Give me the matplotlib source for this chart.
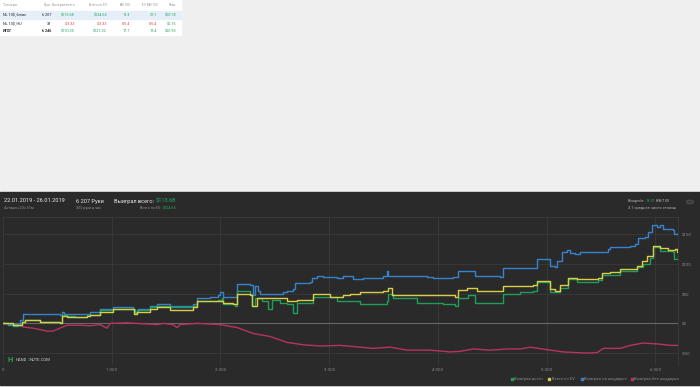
import matplotlib.pyplot as plt
from matplotlib.patches import Rectangle, Circle
from matplotlib.ticker import FuncFormatter

# -----------------------------
# Data (hands played -> dollars)
# -----------------------------
sd_hands = [0, 46, 92, 156, 184, 340, 524, 543, 561, 681, 782, 800, 892, 1012,
            1141, 1196, 1214, 1242, 1352, 1417, 1536, 1748, 1785, 1904, 1978,
            1996, 2024, 2116, 2153, 2272, 2300, 2318, 2346, 2364, 2429, 2576,
            2613, 2668, 2686, 2824, 2843, 2889, 2944, 3073, 3128, 3192, 3220,
            3312, 3468, 3496, 3524, 3533, 3542, 3717, 3901, 3956, 4140, 4186,
            4324, 4342, 4572, 4600, 4894, 4913, 5005, 5032, 5078, 5097, 5143,
            5189, 5216, 5262, 5308, 5566, 5584, 5704, 5768, 5814, 5842, 5906,
            5934, 5971, 6017, 6044, 6072, 6164, 6173, 6201, 6207]
sd_won = [0, -2, -1, 5, 15, 15, 14, 20, 16, 15, 16, 20, 25, 27,
          27, 25, 20, 25, 30, 33, 30, 33, 43, 45, 47,
          52, 45, 45, 67, 65, 48, 63, 55, 50, 50, 52,
          55, 58, 68, 70, 77, 80, 78, 77, 80, 80, 75,
          77, 77, 80, 80, 88, 80, 80, 78, 76, 78, 88,
          88, 80, 78, 93, 93, 108, 108, 96, 95, 105, 120,
          123, 118, 116, 120, 126, 128, 128, 131, 133, 143, 145,
          153, 165, 163, 166, 158, 157, 150, 150, 152]

total_hands = [0, 46, 92, 138, 175, 202, 340, 524, 543, 589, 662, 773, 800,
               892, 1012, 1141, 1205, 1233, 1352, 1417, 1536, 1748, 1785,
               1978, 2015, 2024, 2134, 2153, 2272, 2291, 2318, 2383, 2438,
               2475, 2548, 2613, 2668, 2705, 2852, 3008, 3073, 3128, 3192,
               3284, 3441, 3533, 3542, 3588, 3809, 4048, 4158, 4186, 4278,
               4342, 4572, 4600, 4756, 4876, 4913, 5014, 5032, 5097, 5124,
               5198, 5281, 5474, 5511, 5676, 5833, 5888, 5952, 5980, 6044,
               6164, 6173, 6207]
total_won = [0, -1, -4, -3, 2, 5, 3, 0, 14, 12, 11, 14, 14,
             22, 25, 25, 17, 22, 28, 30, 27, 30, 38,
             40, 43, 33, 30, 55, 50, 30, 43, 38, 25,
             40, 35, 33, 18, 35, 45, 45, 37, 38, 38,
             33, 32, 37, 50, 42, 35, 32, 30, 42, 47,
             35, 35, 50, 52, 55, 70, 70, 53, 52, 60,
             75, 70, 73, 82, 88, 95, 100, 110, 128, 122,
             120, 108, 113.68]

ev_hands = [0, 92, 175, 202, 340, 524, 543, 589, 662, 773, 800, 892, 1012,
            1141, 1205, 1233, 1352, 1417, 1536, 1748, 1785, 1978, 2024, 2116,
            2153, 2272, 2291, 2337, 2456, 2613, 2705, 2852, 3008, 3128, 3192,
            3284, 3441, 3496, 3542, 3579, 3717, 4020, 4158, 4186, 4269, 4361,
            4545, 4600, 4876, 4913, 5014, 5032, 5078, 5124, 5198, 5281, 5474,
            5511, 5584, 5676, 5833, 5879, 5925, 5980, 6044, 6118, 6182, 6201,
            6207]
ev_won = [0, -3, 2, 5, 3, 0, 13, 11, 10, 12, 14, 20, 24,
          24, 15, 20, 25, 28, 22, 27, 38, 37, 35, 32,
          50, 47, 30, 43, 42, 37, 40, 50, 45, 47, 50,
          52, 53, 55, 60, 48, 48, 47, 45, 57, 60, 55,
          55, 63, 64, 72, 72, 58, 55, 65, 77, 75, 77,
          85, 87, 92, 97, 105, 113, 131, 127, 123, 125, 120,
          124.65]

nsd_hands = [0, 156, 184, 276, 405, 460, 524, 589, 708, 800, 892, 957, 984,
             1141, 1417, 1472, 1564, 1601, 1628, 1785, 1996, 2153, 2300, 2456,
             2613, 2760, 2916, 3100, 3284, 3404, 3560, 3717, 3928, 4112, 4204,
             4324, 4480, 4637, 4756, 4848, 5032, 5152, 5373, 5465, 5520, 5676,
             5768, 5888, 6044, 6136, 6207]
nsd_won = [0, -3, -6, -8, -13, -13, -8, -3, -3, -4, -2, -8, 0,
           1, -2, 0, -2, -7, -2, 0, -2, -7, -17, -22,
           -32, -36, -38, -37, -40, -42, -40, -45, -45, -48, -47,
           -43, -45, -43, -43, -40, -45, -48, -50, -49, -42, -42,
           -37, -33, -35, -37, -37]

x_ticks = [0, 1000, 2000, 3000, 4000, 5000, 6000]
y_ticks = [-50, 0, 50, 100, 150]

table_header = ["Тип игры", "Руки", "Выиграл всего", "Всего по EV",
                "BB/100", "EV BB/100", "Рейк"]
table_rows = [
    ["NL 10$, 6max", "6 207", "$113.68", "$124.65", "18.3", "20.1", "$50.78"],
    ["NL 10$, HU", "39", "-$3.33", "-$3.33", "-85.4", "-85.4", "$0.15"],
    ["ИТОГ", "6 246", "$110.35", "$121.32", "17.7", "19.4", "$50.93"],
]

legend_labels = ["Выиграл всего", "Всего по EV", "Выиграл на шоудауне",
                 "Выиграл без шоудауна"]

GREEN = "#1e9e5a"
YELLOW = "#d8cf45"
BLUE = "#3683cc"
RED = "#b83263"
TXT_GREEN = "#22b060"

W, H = 700, 387


def fx(x):
    return x / W


def fy(y):
    return 1 - y / H


def text_run(fig, x, y, parts, size, ha="left"):
    """Write several coloured pieces one after another on one line."""
    renderer = fig.canvas.get_renderer()
    widths = []
    for txt, col in parts:
        t = fig.text(0, 0, txt, fontsize=size)
        widths.append(t.get_window_extent(renderer).width)
        t.remove()
    total = sum(widths)
    cur = x if ha == "left" else x - total
    for (txt, col), w in zip(parts, widths):
        fig.text(fx(cur), fy(y), txt, fontsize=size, color=col,
                 va="center", ha="left")
        cur += w


plt.rcParams["font.family"] = ["Roboto", "DejaVu Sans"]

fig = plt.figure(figsize=(7, 3.87), dpi=100, facecolor="#efefef")

# -----------------------------
# Summary table (top-left)
# -----------------------------
fig.patches.append(Rectangle((0, fy(35)), fx(181), 35 / H,
                             transform=fig.transFigure, color="white", zorder=-10))
fig.patches.append(Rectangle((0, fy(19)), fx(181), 8 / H,
                             transform=fig.transFigure, color="#e6eef8", zorder=-9))

col_right = [None, 51, 75, 107, 130, 157, 176]
row_y = [5, 15, 24, 31]

for j, txt in enumerate(table_header):
    if j == 0:
        fig.text(fx(3), fy(row_y[0]), txt, fontsize=2.3, color="#9a9a9a",
                 va="center", ha="left")
    else:
        fig.text(fx(col_right[j]), fy(row_y[0]), txt, fontsize=2.3,
                 color="#9a9a9a", va="center", ha="right")

for i, row in enumerate(table_rows):
    bold = i == 2
    for j, txt in enumerate(row):
        if j < 2:
            color = "#222222"
        elif txt.startswith("-"):
            color = "#e0453f"
        else:
            color = "#24a35a"
        if j == 0:
            fig.text(fx(3), fy(row_y[i + 1]), txt, fontsize=2.7, color=color,
                     va="center", ha="left",
                     fontweight="bold" if bold else "normal")
        else:
            fig.text(fx(col_right[j]), fy(row_y[i + 1]), txt, fontsize=2.7,
                     color=color, va="center", ha="right",
                     fontweight="bold" if (bold and j == 1) else "normal")

# -----------------------------
# Dark chart panel
# -----------------------------
fig.patches.append(Rectangle((0, fy(385)), 1, (385 - 192) / H,
                             transform=fig.transFigure, color="#2a2a2a",
                             zorder=-10))

# header texts
fig.text(fx(4), fy(201), "22.01.2019 - 26.01.2019", fontsize=4.1,
         color="#e8e8e8", va="center", ha="left")
fig.text(fx(4), fy(208), "Активен 20ч 31м", fontsize=2.7, color="#8c8c8c",
         va="center", ha="left")
fig.text(fx(76), fy(201), "6 207 Руки", fontsize=4.1, color="#e8e8e8",
         va="center", ha="left")
fig.text(fx(76), fy(208), "302 руки в час", fontsize=2.7, color="#8c8c8c",
         va="center", ha="left")
text_run(fig, 114, 201, [("Выиграл всего: ", "#e8e8e8"),
                         ("$113.68", TXT_GREEN)], 4.1)
text_run(fig, 176, 208, [("Всего по EV: ", "#8c8c8c"),
                         ("$124.65", TXT_GREEN)], 2.7, ha="right")

text_run(fig, 628, 201, [("Винрейт: ", "#b0b0b0"), ("18.31", TXT_GREEN),
                         (" BB/100", "#b0b0b0")], 2.9)
fig.text(fx(628), fy(208), "3.1 среднее число столов", fontsize=2.9,
         color="#b0b0b0", va="center", ha="left")
fig.patches.append(Circle((fx(690), fy(202)), 3.5 / W, transform=fig.transFigure,
                          facecolor="#3a3a3a", edgecolor="#555555", lw=0.6))

# -----------------------------
# Plot axes
# -----------------------------
ax_left, ax_right, ax_top, ax_bottom = 3, 678, 217, 365
ax = fig.add_axes([fx(ax_left), fy(ax_bottom), (ax_right - ax_left) / W,
                   (ax_bottom - ax_top) / H])
ax.set_facecolor("#2a2a2a")

ax.plot(nsd_hands, nsd_won, color=RED, lw=1.0, zorder=3)
ax.plot(sd_hands, sd_won, color=BLUE, lw=1.0, zorder=3, drawstyle="steps-post")
ax.plot(total_hands, total_won, color=GREEN, lw=1.0, zorder=4,
        drawstyle="steps-post")
ax.plot(ev_hands, ev_won, color=YELLOW, lw=1.0, zorder=5,
        drawstyle="steps-post")
ax.axhline(0, color="#666666", lw=0.8, zorder=2)

ax.set_xlim(0, 6207)
ax.set_ylim(-70, 179)
ax.set_xticks(x_ticks)
ax.set_yticks(y_ticks)
ax.xaxis.set_major_formatter(FuncFormatter(lambda v, p: f"{int(v):,}".replace(",", " ")))
ax.yaxis.set_major_formatter(FuncFormatter(
    lambda v, p: f"-${abs(int(v))}" if v < 0 else f"${int(v)}"))
ax.yaxis.tick_right()
ax.tick_params(axis="both", length=0, labelsize=3.2, labelcolor="#8a8a8a")
ax.tick_params(axis="y", pad=3)
ax.tick_params(axis="x", pad=2.5)
ax.grid(True, color="#3a3a3a", lw=0.6, zorder=1)
for name, spine in ax.spines.items():
    spine.set_visible(name in ("top", "right"))
    spine.set_color("#3a3a3a")
    spine.set_linewidth(0.6)

# watermark
fig.text(fx(7), fy(360), "H", fontsize=5.5, color="#2fa24f", fontweight="bold",
         va="center", ha="left")
text_run(fig, 16, 360, [("HAND", "#d0d0d0"), ("2", "#2fa24f"),
                        ("NOTE.COM", "#d0d0d0")], 3.0)

# legend
legend_colors = [GREEN, YELLOW, BLUE, RED]
legend_x = [512, 549, 582, 632]
for lx, lab, col in zip(legend_x, legend_labels, legend_colors):
    fig.patches.append(Rectangle((fx(lx - 1), fy(380)), 2 / W, 2 / H,
                                 transform=fig.transFigure, color=col))
    fig.text(fx(lx + 2.5), fy(379), lab, fontsize=3.0, color="#8a8a8a",
             va="center", ha="left")

fig.savefig("out.png", dpi=100, facecolor=fig.get_facecolor())
